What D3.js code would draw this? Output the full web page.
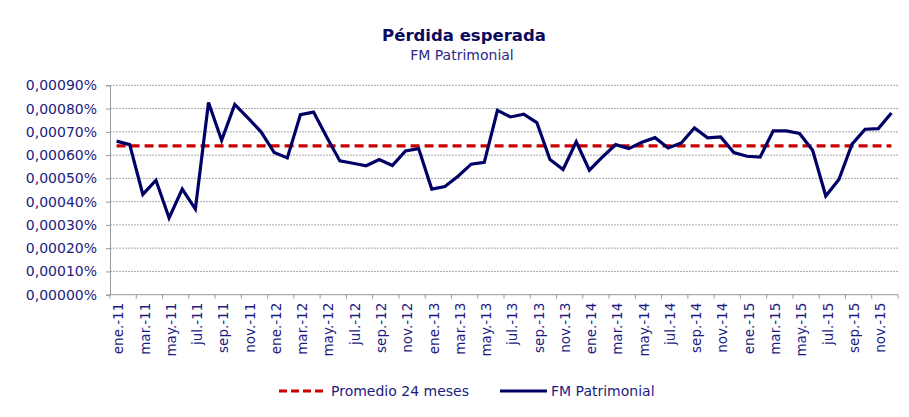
<!DOCTYPE html>
<html>
<head>
<meta charset="utf-8">
<script src="https://cdn.jsdelivr.net/npm/d3@7"></script>
<style>
  body { margin: 0; background: #fff; }
  text { font-family: "DejaVu Sans", Verdana, sans-serif; }
</style>
</head>
<body>
<div id="chart"></div>
<script>
// Pérdida esperada - FM Patrimonial, monthly ene-11 .. dic-15

const monthNames = ['ene.', 'feb.', 'mar.', 'abr.', 'may.', 'jun.', 'jul.', 'ago.', 'sep.', 'oct.', 'nov.', 'dic.'];
const years = ['11', '12', '13', '14', '15'];

// expected loss, in percent
const fmPatrimonial = [
  0.00066, 0.000645, 0.000431, 0.000492, 0.000330, 0.000454, 0.000368, 0.000826, 0.000664, 0.000818, 0.000760, 0.000700,
  0.000611, 0.000588, 0.000774, 0.000785, 0.000678, 0.000575, 0.000565, 0.000554, 0.000581, 0.000555, 0.000618, 0.000628,
  0.000454, 0.000465, 0.000509, 0.000561, 0.000569, 0.000792, 0.000764, 0.000776, 0.000740, 0.000581, 0.000538, 0.000657,
  0.000535, 0.000592, 0.000645, 0.000628, 0.000655, 0.000675, 0.000631, 0.000652, 0.000717, 0.000674, 0.000678, 0.000611,
  0.000595, 0.000591, 0.000704, 0.000704, 0.000693, 0.000621, 0.000424, 0.000495, 0.000647, 0.000711, 0.000714, 0.000781
];
const promedio24 = 0.00064;

const yTicks = [0, 0.0001, 0.0002, 0.0003, 0.0004, 0.0005, 0.0006, 0.0007, 0.0008, 0.0009];

const categories = [];
years.forEach(y => monthNames.forEach(m => categories.push(m + '-' + y)));

const width = 909, height = 417;
const margin = {top: 85.3, left: 110, right: 11, bottom: 122.3};
const textColor = '#1c1c80';

const svg = d3.select('#chart')
  .append('svg')
  .attr('width', width)
  .attr('height', height);

const x = d3.scaleBand()
  .domain(categories)
  .range([margin.left, width - margin.right])
  .padding(0);

const y = d3.scaleLinear()
  .domain([0, 0.0009])
  .range([height - margin.bottom, margin.top]);

const fmt = v => v.toFixed(5).replace('.', ',') + '%';

// gridlines
svg.append('g')
  .selectAll('line')
  .data(yTicks.slice(1))
  .join('line')
  .attr('x1', margin.left)
  .attr('x2', width - margin.right)
  .attr('y1', d => y(d))
  .attr('y2', d => y(d))
  .attr('stroke', '#a8a8a8')
  .attr('stroke-width', 1)
  .attr('stroke-dasharray', '2,1');

// y axis
const yAxis = svg.append('g')
  .attr('transform', `translate(${margin.left},0)`)
  .call(d3.axisLeft(y).tickValues(yTicks).tickFormat(fmt).tickSize(4).tickPadding(9));
yAxis.select('.domain').attr('stroke', '#999');
yAxis.selectAll('.tick line').attr('stroke', '#999');
yAxis.selectAll('text')
  .attr('fill', textColor)
  .style('font-size', '14px')
  .style('font-family', '"DejaVu Sans", Verdana, sans-serif');

// x axis: line, ticks at every second band boundary, labels on band centers
const y0 = y(0);
const xg = svg.append('g');
xg.append('line')
  .attr('x1', margin.left)
  .attr('x2', width - margin.right)
  .attr('y1', y0)
  .attr('y2', y0)
  .attr('stroke', '#999');

const tickCats = categories.filter((d, i) => i % 2 === 0);
xg.selectAll('line.tk')
  .data(tickCats.map(d => x(d)).concat([x.range()[1]]))
  .join('line')
  .attr('class', 'tk')
  .attr('x1', d => d)
  .attr('x2', d => d)
  .attr('y1', y0)
  .attr('y2', y0 + 4)
  .attr('stroke', '#999');

xg.selectAll('text')
  .data(tickCats)
  .join('text')
  .attr('transform', d => `translate(${x(d) + x.bandwidth() / 2 + 2},${y0 + 8}) rotate(-90)`)
  .attr('text-anchor', 'end')
  .attr('dy', '0.35em')
  .attr('fill', textColor)
  .style('font-size', '13.5px')
  .text(d => d);

// 24 month average
svg.append('line')
  .attr('x1', x(categories[0]) + x.bandwidth() / 2)
  .attr('x2', x(categories[categories.length - 1]) + x.bandwidth() / 2)
  .attr('y1', y(promedio24))
  .attr('y2', y(promedio24))
  .attr('stroke', '#cc0000')
  .attr('stroke-width', 3.2)
  .attr('stroke-dasharray', '9,5');

// main series
const line = d3.line()
  .x((d, i) => x(categories[i]) + x.bandwidth() / 2)
  .y(d => y(d));

svg.append('path')
  .datum(fmPatrimonial)
  .attr('d', line)
  .attr('fill', 'none')
  .attr('stroke', '#000066')
  .attr('stroke-width', 3.2)
  .attr('stroke-linejoin', 'miter');

// titles
svg.append('text')
  .attr('x', 464)
  .attr('y', 41)
  .attr('text-anchor', 'middle')
  .attr('fill', '#0a0a60')
  .style('font-size', '16.5px')
  .style('font-weight', 'bold')
  .text('Pérdida esperada');

svg.append('text')
  .attr('x', 462)
  .attr('y', 60)
  .attr('text-anchor', 'middle')
  .attr('fill', '#2a2a85')
  .style('font-size', '14px')
  .text('FM Patrimonial');

// legend
const legend = svg.append('g').attr('transform', 'translate(0,391)');
legend.append('line')
  .attr('x1', 279).attr('x2', 326).attr('y1', 0).attr('y2', 0)
  .attr('stroke', '#cc0000').attr('stroke-width', 3.2).attr('stroke-dasharray', '8,4');
legend.append('text')
  .attr('x', 331).attr('y', 5)
  .attr('fill', textColor)
  .style('font-size', '14px')
  .text('Promedio 24 meses');
legend.append('line')
  .attr('x1', 500).attr('x2', 547).attr('y1', 0).attr('y2', 0)
  .attr('stroke', '#000066').attr('stroke-width', 3.2);
legend.append('text')
  .attr('x', 551).attr('y', 5)
  .attr('fill', textColor)
  .style('font-size', '14px')
  .text('FM Patrimonial');
</script>
</body>
</html>
